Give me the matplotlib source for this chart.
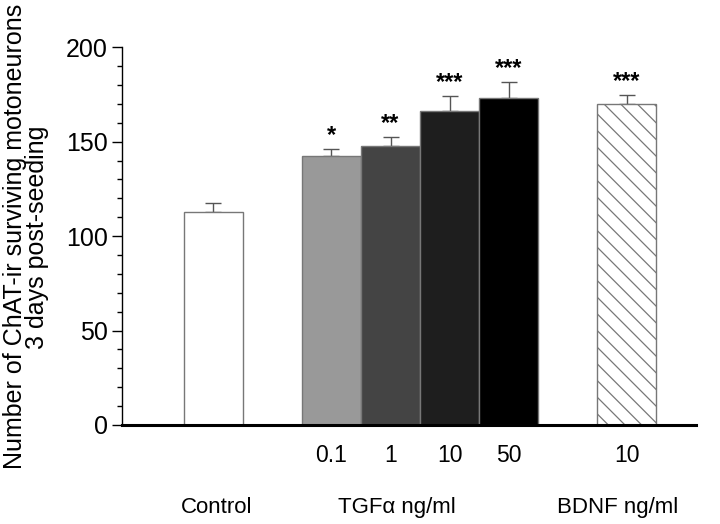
import numpy as np
import matplotlib
matplotlib.use('Agg')
import matplotlib.pyplot as plt
from matplotlib.ticker import MultipleLocator

plt.rcParams['font.family'] = ['Liberation Sans', 'DejaVu Sans']
plt.rcParams['hatch.linewidth'] = 0.9

# data
positions = [0, 2, 3, 4, 5, 7]
dose_labels = ['', '0.1', '1', '10', '50', '10']
means = [112.5, 142.5, 147.5, 166, 173, 170]
sems = [5, 3.7, 4.7, 8, 8.8, 4.9]
stars = ['', '*', '**', '***', '***', '***']
fills = ['white', '#999999', '#444444', '#1e1e1e', '#000000', 'white']
hatches = [None, None, None, None, None, '\\\\']
groups = ['Control', 'TGF\u03b1 ng/ml', 'BDNF ng/ml']
group_x = [0.05, 3.1, 6.85]

fig = plt.figure(figsize=(7.2, 5.24), dpi=100)
ax = fig.add_axes([0.1694, 0.189, 0.967 - 0.1694, 0.910 - 0.189])

for x, m, c, h in zip(positions, means, fills, hatches):
    ax.bar(x, m, width=1.0, color=c, edgecolor='#777777', linewidth=1.0, hatch=h, zorder=2)

ax.errorbar(positions, means, yerr=[np.zeros(len(sems)), sems], fmt='none',
            ecolor='#555555', elinewidth=1.0, capsize=6, capthick=1.0, zorder=1)

for x, m, s, st in zip(positions, means, sems, stars):
    if st:
        ax.text(x, m + s + 3.7, st, ha='center', va='baseline', fontsize=17, fontweight='bold')

ax.set_xlim(-1.55, 8.18)
ax.set_ylim(0, 200)
ax.yaxis.set_major_locator(MultipleLocator(50))
ax.yaxis.set_minor_locator(MultipleLocator(10))
ax.tick_params(axis='y', which='major', length=7.2, width=1, labelsize=18, pad=3)
ax.tick_params(axis='y', which='minor', length=3.6, width=1)
ax.set_xticks(positions)
ax.set_xticklabels(dose_labels, fontsize=16.5)
ax.tick_params(axis='x', length=0, pad=14)

ax.spines['top'].set_visible(False)
ax.spines['right'].set_visible(False)
ax.spines['left'].set_linewidth(1.0)
ax.spines['bottom'].set_linewidth(2.2)

# group names under the dose labels
for gx, g in zip(group_x, groups):
    ax.annotate(g, xy=(gx, 0.032), xycoords=('data', 'figure fraction'),
                ha='center', va='center', fontsize=16, annotation_clip=False)

fig.text(0.036, 0.548, 'Number of ChAT-ir surviving motoneurons\n3 days post-seeding',
         rotation=90, ha='center', va='center', fontsize=18, linespacing=0.9)

fig.savefig('out.png', dpi=100)
